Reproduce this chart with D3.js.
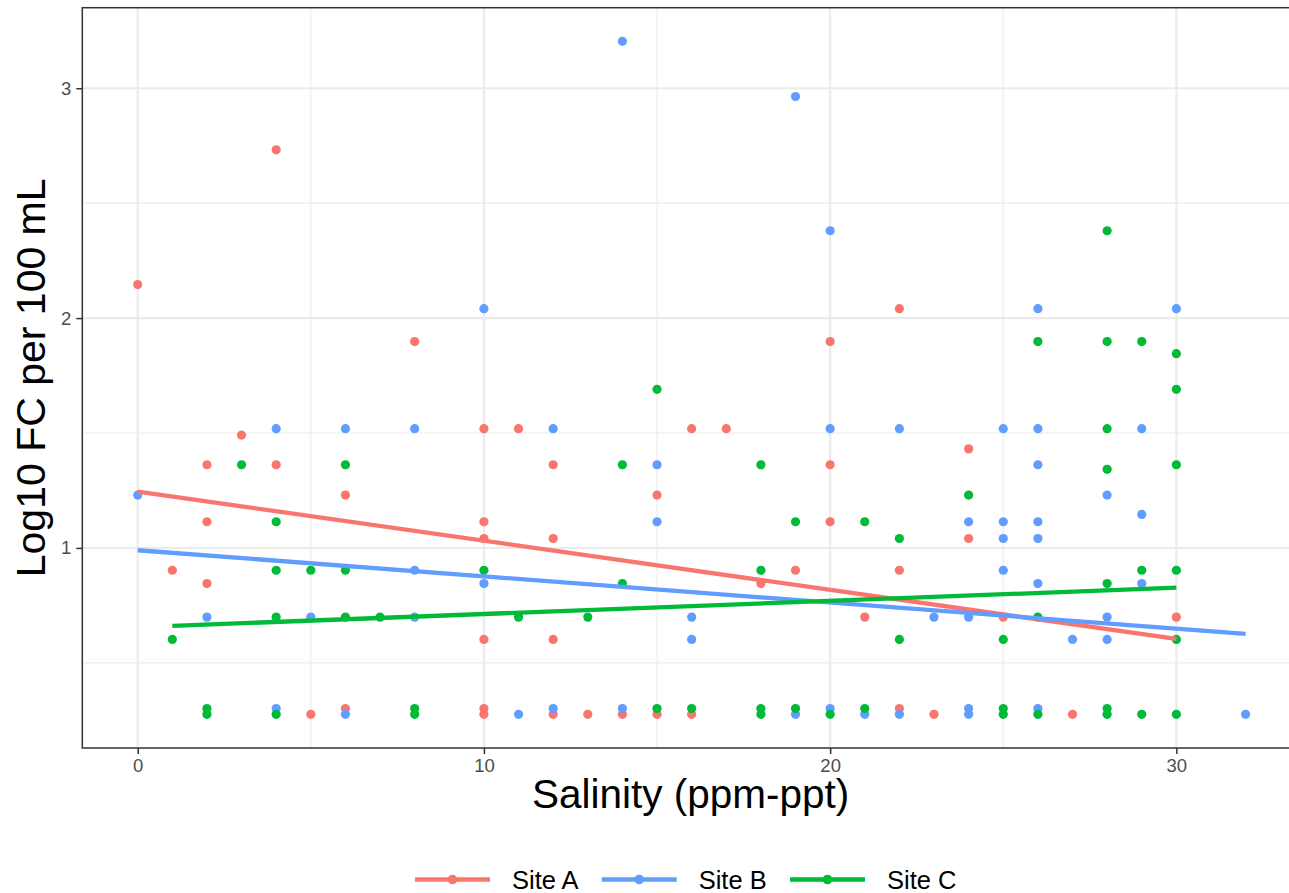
<!DOCTYPE html>
<html>
<head>
<meta charset="utf-8">
<script src="https://cdn.jsdelivr.net/npm/d3@7"></script>
<style>
    body { margin: 0; background: white; }
    svg { display: block; font-family: "Liberation Sans", Arial, sans-serif; }
</style>
</head>
<body>
<svg id="chart"></svg>
<script>
const sites = ["Site A", "Site B", "Site C"];
const colors = ["#F8766D", "#619CFF", "#00BA38"];

// salinity readings and log10 counts
const siteAx = [0, 1, 2, 2, 2, 3, 4, 4, 5, 6, 6, 8, 10, 10, 10, 10, 10, 10, 11, 12, 12, 12, 12, 13, 14, 15, 15, 16, 16, 17, 18, 19, 20, 20, 20, 21, 22, 22, 22, 23, 24, 24, 25, 27, 30];
const siteAy = [2.146, 0.903, 1.362, 1.114, 0.845, 1.491, 2.732, 1.362, 0.276, 1.230, 0.301, 1.898, 1.519, 1.114, 1.041, 0.602, 0.301, 0.276, 1.519, 1.362, 1.041, 0.602, 0.276, 0.276, 0.276, 1.230, 0.276, 1.519, 0.276, 1.519, 0.845, 0.903, 1.898, 1.362, 1.114, 0.699, 2.041, 0.903, 0.301, 0.276, 1.431, 1.041, 0.699, 0.276, 0.699];

const siteBx = [0, 2, 4, 4, 5, 6, 6, 8, 8, 8, 10, 10, 11, 12, 12, 14, 14, 15, 15, 16, 16, 19, 19, 20, 20, 20, 21, 22, 22, 23, 24, 24, 24, 24, 25, 25, 25, 25, 26, 26, 26, 26, 26, 26, 26, 27, 28, 28, 28, 29, 29, 29, 30, 32];
const siteBy = [1.230, 0.699, 1.519, 0.301, 0.699, 1.519, 0.276, 1.519, 0.903, 0.699, 2.041, 0.845, 0.276, 1.519, 0.301, 3.204, 0.301, 1.362, 1.114, 0.699, 0.602, 2.964, 0.276, 2.380, 1.519, 0.301, 0.276, 1.519, 0.276, 0.699, 1.114, 0.699, 0.301, 0.276, 1.519, 1.114, 1.041, 0.903, 2.041, 1.519, 1.362, 1.114, 1.041, 0.845, 0.301, 0.602, 1.230, 0.699, 0.602, 1.519, 1.146, 0.845, 2.041, 0.276];

const siteCx = [1, 2, 2, 3, 4, 4, 4, 4, 5, 6, 6, 6, 7, 8, 8, 10, 11, 13, 14, 14, 15, 15, 16, 18, 18, 18, 18, 19, 19, 20, 21, 21, 22, 22, 24, 25, 25, 25, 26, 26, 26, 28, 28, 28, 28, 28, 28, 28, 29, 29, 29, 30, 30, 30, 30, 30, 30];
const siteCy = [0.602, 0.301, 0.276, 1.362, 1.114, 0.903, 0.699, 0.276, 0.903, 1.362, 0.903, 0.699, 0.699, 0.301, 0.276, 0.903, 0.699, 0.699, 1.362, 0.845, 1.690, 0.301, 0.301, 1.362, 0.903, 0.301, 0.276, 1.114, 0.301, 0.276, 1.114, 0.301, 1.041, 0.602, 1.230, 0.602, 0.301, 0.276, 1.898, 0.699, 0.276, 2.380, 1.898, 1.519, 1.342, 0.845, 0.301, 0.276, 1.898, 0.903, 0.276, 1.845, 1.690, 1.362, 0.903, 0.602, 0.276];

// ends of the fitted lm lines
const fitX = [[0, 30], [0, 32], [1, 30]];
const fitY = [[1.245, 0.604], [0.990, 0.626], [0.661, 0.827]];

const xTicks = [0, 10, 20, 30];
const yTicks = [1, 2, 3];
const yMinor = [0.5, 1.5, 2.5];

const width = 1289, height = 893;
const panel = { left: 82.3, right: 1301, top: 7.7, bottom: 748 };

const svg = d3.select("#chart")
    .attr("width", width)
    .attr("height", height);

const series = [
    { x: siteAx, y: siteAy },
    { x: siteBx, y: siteBy },
    { x: siteCx, y: siteCy }
];
const points = [];
series.forEach((s, i) => {
    s.x.forEach((v, j) => points.push({ x: v, y: s.y[j], site: i }));
});

// ggplot style 5% expansion on both axes
const xExt = d3.extent(points, d => d.x);
const yExt = d3.extent(points, d => d.y);
const xPad = (xExt[1] - xExt[0]) * 0.05;
const yPad = (yExt[1] - yExt[0]) * 0.05;

const x = d3.scaleLinear()
    .domain([xExt[0] - xPad, xExt[1] + xPad + 0])
    .range([panel.left, panel.right]);
const y = d3.scaleLinear()
    .domain([yExt[0] - yPad, yExt[1] + yPad])
    .range([panel.bottom, panel.top]);

// x grid: minor lines halfway between majors
const xMinor = d3.range(-5, 40, 10);

const grid = svg.append("g");
grid.selectAll(".ymin")
    .data(yMinor)
    .enter().append("line")
    .attr("x1", panel.left).attr("x2", panel.right)
    .attr("y1", d => y(d)).attr("y2", d => y(d))
    .attr("stroke", "#EBEBEB").attr("stroke-width", 1.1);
grid.selectAll(".xmin")
    .data(xMinor.filter(d => x(d) > panel.left && x(d) < panel.right))
    .enter().append("line")
    .attr("x1", d => x(d)).attr("x2", d => x(d))
    .attr("y1", panel.top).attr("y2", panel.bottom)
    .attr("stroke", "#EBEBEB").attr("stroke-width", 1.1);
grid.selectAll(".ymaj")
    .data(yTicks)
    .enter().append("line")
    .attr("x1", panel.left).attr("x2", panel.right)
    .attr("y1", d => y(d)).attr("y2", d => y(d))
    .attr("stroke", "#EBEBEB").attr("stroke-width", 2.1);
grid.selectAll(".xmaj")
    .data(xTicks)
    .enter().append("line")
    .attr("x1", d => x(d)).attr("x2", d => x(d))
    .attr("y1", panel.top).attr("y2", panel.bottom)
    .attr("stroke", "#EBEBEB").attr("stroke-width", 2.1);

svg.append("g")
    .selectAll("circle")
    .data(points)
    .enter().append("circle")
    .attr("cx", d => x(d.x))
    .attr("cy", d => y(d.y))
    .attr("r", 4.6)
    .attr("fill", d => colors[d.site]);

const line = d3.line()
    .x(d => x(d[0]))
    .y(d => y(d[1]));

svg.append("g")
    .selectAll("path")
    .data(fitX.map((xs, i) => xs.map((v, j) => [v, fitY[i][j]])))
    .enter().append("path")
    .attr("d", line)
    .attr("fill", "none")
    .attr("stroke", (d, i) => colors[i])
    .attr("stroke-width", 4.3);

// panel border
svg.append("rect")
    .attr("x", panel.left).attr("y", panel.top)
    .attr("width", panel.right - panel.left)
    .attr("height", panel.bottom - panel.top)
    .attr("fill", "none")
    .attr("stroke", "#333333")
    .attr("stroke-width", 1.5);

// axes
const xAxis = svg.append("g")
    .attr("transform", `translate(0,${panel.bottom})`)
    .call(d3.axisBottom(x).tickValues(xTicks).tickSize(6).tickPadding(5).tickFormat(d3.format("d")));
const yAxis = svg.append("g")
    .attr("transform", `translate(${panel.left},0)`)
    .call(d3.axisLeft(y).tickValues(yTicks).tickSize(6).tickPadding(5).tickFormat(d3.format("d")));

[xAxis, yAxis].forEach(a => {
    a.select(".domain").remove();
    a.selectAll(".tick line").attr("stroke", "#333333").attr("stroke-width", 1.5);
    a.selectAll(".tick text")
        .attr("fill", "#4D4D4D")
        .style("font-size", "18.5px")
        .style("font-family", "'Liberation Sans', Arial, sans-serif");
});

svg.append("text")
    .attr("x", (panel.left + 1289 + 0) / 2 + 5)
    .attr("y", 808)
    .attr("text-anchor", "middle")
    .style("font-size", "40.5px")
    .text("Salinity (ppm-ppt)");

svg.append("text")
    .attr("transform", `translate(45,${(panel.top + panel.bottom) / 2}) rotate(-90)`)
    .attr("text-anchor", "middle")
    .style("font-size", "41px")
    .text("Log10 FC per 100 mL");

// legend at the bottom
const legendX = [415, 601.7, 790];
const legend = svg.append("g")
    .selectAll("g")
    .data(sites)
    .enter().append("g")
    .attr("transform", (d, i) => `translate(${legendX[i]},879.5)`);

legend.append("line")
    .attr("x1", 0).attr("x2", 75)
    .attr("stroke", (d, i) => colors[i])
    .attr("stroke-width", 4.5);
legend.append("circle")
    .attr("cx", 37.5)
    .attr("r", 4.8)
    .attr("fill", (d, i) => colors[i]);
legend.append("text")
    .attr("x", 97)
    .attr("y", 9.3)
    .style("font-size", "25.5px")
    .text(d => d);
</script>
</body>
</html>
